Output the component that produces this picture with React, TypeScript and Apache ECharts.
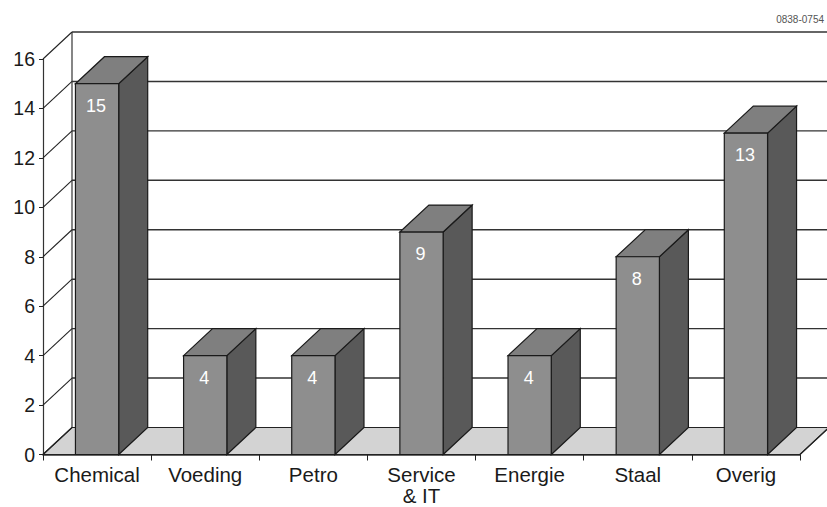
import React, { useEffect, useRef } from "react";
import * as echarts from "echarts";

const categories = ["Chemical", "Voeding", "Petro", "Service\n& IT", "Energie", "Staal", "Overig"];
const values = [15, 4, 4, 9, 4, 8, 13];
const yTicks = [0, 2, 4, 6, 8, 10, 12, 14, 16];
const reference = "0838-0754";

// Depth of the 3D box, in pixels
const DX = 29;
const DY = -27;
const FONT = "Liberation Sans";
const INK = "#1a1a1a";

const poly = (points: number[][], fill: string, stroke = INK, lineWidth = 1.2) => ({
  type: "polygon",
  shape: { points },
  style: { fill, stroke, lineWidth, lineJoin: "miter" },
});
const seg = (x1: number, y1: number, x2: number, y2: number, lineWidth = 1.2, stroke = "#222") => ({
  type: "line",
  shape: { x1, y1, x2, y2 },
  style: { stroke, lineWidth },
});

export default function App() {
  const ref = useRef<HTMLDivElement>(null);
  useEffect(() => {
    const chart = echarts.init(ref.current!, undefined, { renderer: "svg" });
    chart.setOption({
      animation: false,
      backgroundColor: "#fff",
      grid: { left: 43, right: 27, top: 59, bottom: 52.5, outerBoundsMode: "none" },
      graphic: [
        {
          type: "text",
          right: 3,
          top: 14,
          style: { text: reference, font: `10px ${FONT}`, fill: "#555" },
        },
      ],
      xAxis: {
        type: "category",
        data: categories,
        axisLine: { show: true, lineStyle: { color: "#333", width: 1.5 } },
        axisTick: { show: true, alignWithLabel: false, length: 6, lineStyle: { color: "#222", width: 1 } },
        axisLabel: {
          color: INK,
          fontFamily: FONT,
          fontSize: 20.5,
          margin: 9,
          lineHeight: 21.5,
          interval: 0,
        },
        splitLine: { show: false },
      },
      yAxis: {
        type: "value",
        min: 0,
        max: 16,
        interval: 2,
        axisLine: { show: true, lineStyle: { color: "#333", width: 1.2 } },
        axisTick: { show: true, length: 4, lineStyle: { color: "#222", width: 1 } },
        axisLabel: { color: INK, fontFamily: FONT, fontSize: 19.5, margin: 8 },
        splitLine: { show: false },
      },
      series: [
        // Floor of the box
        {
          type: "custom",
          coordinateSystem: "cartesian2d",
          silent: true,
          z: 1,
          data: [0],
          renderItem: (_p: any, api: any) => {
            const start = api.coord([categories[0], 0]);
            const width = api.size([1, 0])[0];
            const x0 = start[0] - width / 2;
            const y0 = start[1];
            const x1 = x0 + width * categories.length;
            return poly(
              [[x0, y0], [x1, y0], [x1 + DX, y0 + DY], [x0 + DX, y0 + DY]],
              "#d3d3d3",
              "#222",
              1.2,
            );
          },
        },
        // Grid lines running along the left wall and across the back wall
        {
          type: "custom",
          coordinateSystem: "cartesian2d",
          silent: true,
          z: 2,
          data: yTicks.map((t) => [0, t]),
          encode: { y: 1 },
          renderItem: (_p: any, api: any) => {
            const v = api.value(1);
            const start = api.coord([categories[0], v]);
            const width = api.size([1, 0])[0];
            const x0 = start[0] - width / 2;
            const y0 = start[1];
            const x1 = x0 + width * categories.length;
            const children: any[] = [seg(x0, y0, x0 + DX, y0 + DY, 1.1)];
            if (v === 0) {
              const top = api.coord([categories[0], 16])[1];
              children.push(seg(x0 + DX, y0 + DY, x0 + DX, top + DY, 1.1));
              children.push(seg(x1, y0, x1 + DX, y0 + DY, 1.1));
            } else {
              children.push(seg(x0 + DX, y0 + DY, x1 + DX, y0 + DY, 1.4, "#333"));
            }
            return { type: "group", children };
          },
        },
        // The bars, each drawn as a front, top and side face
        {
          type: "custom",
          coordinateSystem: "cartesian2d",
          z: 3,
          data: values.map((v, i) => [i, v]),
          encode: { x: 0, y: 1 },
          renderItem: (_p: any, api: any) => {
            const i = api.value(0);
            const v = api.value(1);
            const [cx, yTop] = api.coord([i, v]);
            const yBase = api.coord([i, 0])[1];
            const w = api.size([1, 0])[0] * 0.4;
            const l = cx - w / 2;
            const r = cx + w / 2;
            return {
              type: "group",
              children: [
                poly([[r, yTop], [r + DX, yTop + DY], [r + DX, yBase + DY], [r, yBase]], "#595959"),
                poly([[l, yTop], [l + DX, yTop + DY], [r + DX, yTop + DY], [r, yTop]], "#7f7f7f"),
                poly([[l, yTop], [r, yTop], [r, yBase], [l, yBase]], "#8e8e8e"),
                {
                  type: "text",
                  x: cx - 1,
                  y: yTop + 22,
                  style: {
                    text: String(v),
                    font: `18px ${FONT}`,
                    fill: "#fff",
                    align: "center",
                    verticalAlign: "middle",
                  },
                },
              ],
            };
          },
        },
      ],
    });
    return () => chart.dispose();
  }, []);
  return (
    <div
      ref={ref}
      style={{ position: "fixed", left: 0, top: 0, width: 827, height: 507 }}
    />
  );
}
